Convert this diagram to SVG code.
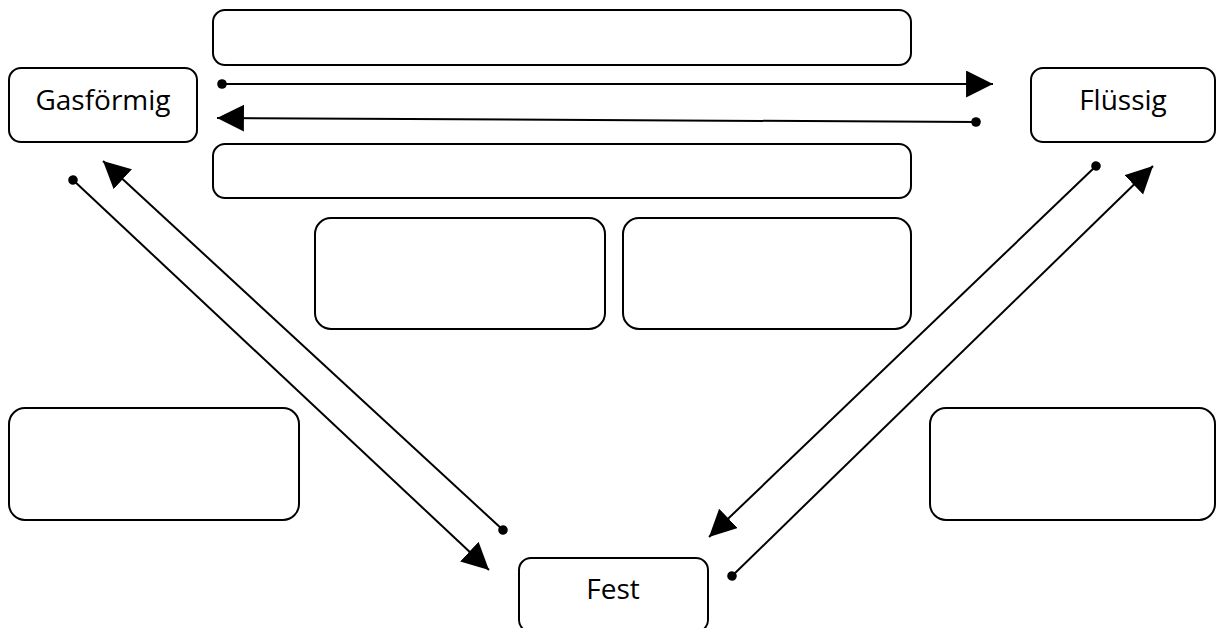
<svg xmlns="http://www.w3.org/2000/svg" width="1216" height="628" viewBox="0 0 1216 628">
  <style>
    .box { fill: #ffffff; stroke: #000000; stroke-width: 2; }
    .lbl { font-family: "Open Sans", "Noto Sans", sans-serif; font-size: 28px; fill: #000000; text-anchor: middle; }
    .conn { stroke: #000000; stroke-width: 2; fill: none; marker-start: url(#dot); marker-end: url(#arrow); }
  </style>
  <defs>
    <marker id="arrow" markerUnits="userSpaceOnUse" markerWidth="28" markerHeight="28" refX="25" refY="12.5" orient="auto" viewBox="0 0 26 26">
      <path d="M0,0 L25,12.5 L0,25 Z" fill="#000000"/>
    </marker>
    <marker id="dot" markerUnits="userSpaceOnUse" markerWidth="12" markerHeight="12" refX="6" refY="6" orient="auto" viewBox="0 0 12 12">
      <circle cx="6" cy="6" r="4.8" fill="#000000"/>
    </marker>
  </defs>
  <rect width="1216" height="628" fill="#ffffff"/>
  <g id="connectors">
    <line class="conn" x1="222" y1="84" x2="993" y2="84"/>
    <line class="conn" x1="976" y1="122" x2="217" y2="118"/>
    <line class="conn" x1="73" y1="180" x2="489" y2="570"/>
    <line class="conn" x1="503" y1="530" x2="103" y2="161"/>
    <line class="conn" x1="1096" y1="166" x2="709" y2="537"/>
    <line class="conn" x1="732" y1="576" x2="1153" y2="166"/>
  </g>
  <g id="node-gasfoermig">
    <rect class="box" x="9" y="68" width="188" height="74" rx="12"/>
    <text class="lbl" x="103" y="110">Gasförmig</text>
  </g>
  <g id="node-fluessig">
    <rect class="box" x="1031" y="68" width="184" height="74" rx="12"/>
    <text class="lbl" x="1123" y="110">Flüssig</text>
  </g>
  <g id="node-fest">
    <rect class="box" x="519" y="558" width="189" height="74" rx="12"/>
    <text class="lbl" x="613" y="599">Fest</text>
  </g>
  <g id="node-top1">
    <rect class="box" x="213" y="10" width="698" height="55" rx="12"/>
  </g>
  <g id="node-top2">
    <rect class="box" x="213" y="144" width="698" height="54" rx="12"/>
  </g>
  <g id="node-mid-left">
    <rect class="box" x="315" y="218" width="290" height="111" rx="16"/>
  </g>
  <g id="node-mid-right">
    <rect class="box" x="623" y="218" width="288" height="111" rx="16"/>
  </g>
  <g id="node-low-left">
    <rect class="box" x="9" y="408" width="290" height="112" rx="16"/>
  </g>
  <g id="node-low-right">
    <rect class="box" x="930" y="408" width="285" height="112" rx="16"/>
  </g>
</svg>
